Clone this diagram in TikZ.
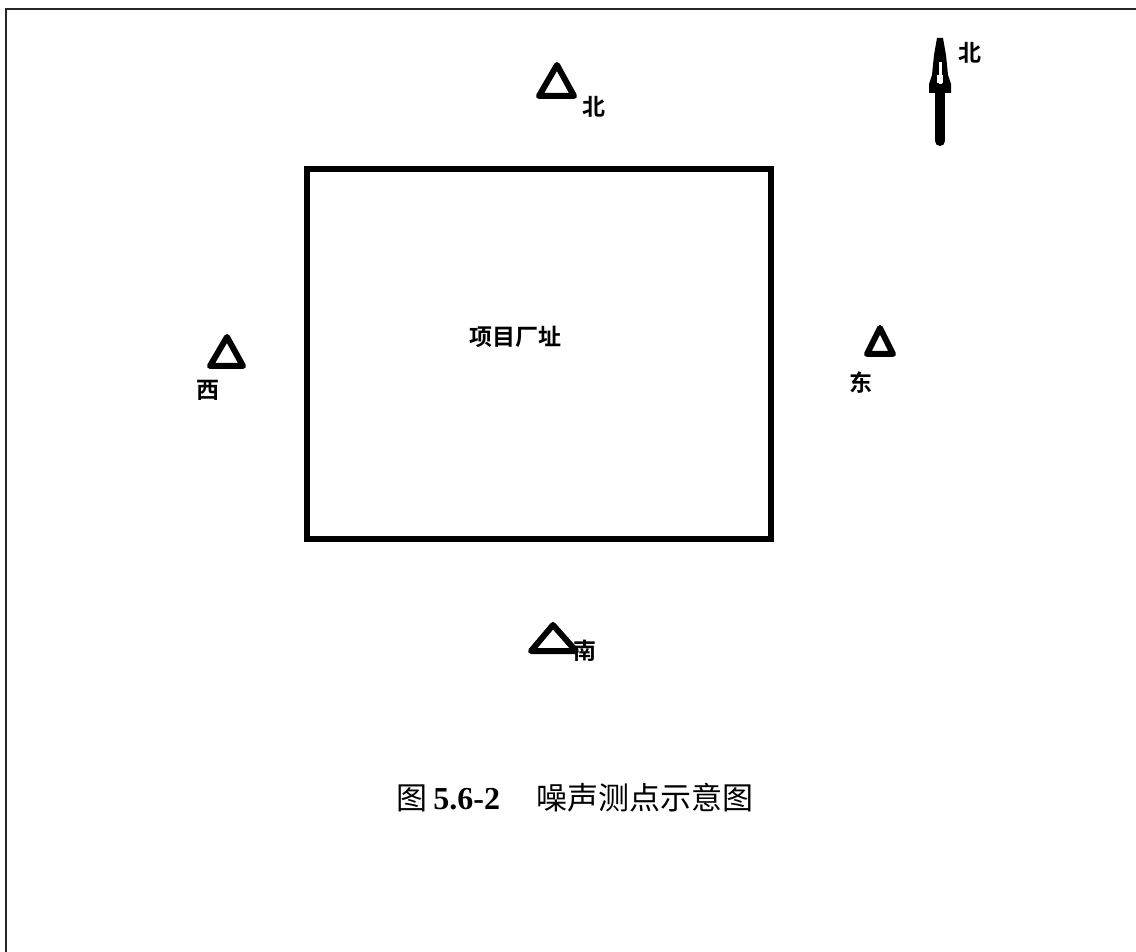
\documentclass[tikz,border=0pt]{standalone}
\usepackage{fontspec}
\setmainfont{Liberation Serif}
\newfontfamily\cjk{Noto Sans CJK SC}
\newfontfamily\cjkb{Noto Sans CJK SC Bold}
\begin{document}
\begin{tikzpicture}[x=0.5pt,y=-0.5pt,
  frameline/.style={line width=1pt,draw=black!85},
  site/.style={line width=3pt,draw=black},
  tri/.style={line width=3pt,draw=black,line join=round},
  lbl/.style={font=\cjkb\fontsize{11.5pt}{13pt}\selectfont,inner sep=0pt},
  captext/.style={font=\fontsize{15.5pt}{18pt}\selectfont,inner sep=0pt,anchor=west}]
\useasboundingbox (0,0) rectangle (1136,952);
\fill[white] (0,0) rectangle (1136,952);
% frame
\coordinate (fA) at (6,952);
\coordinate (fB) at (6,9);
\coordinate (fC) at (1136,9);
\draw[frameline] (fA) -- (fB) -- (fC);
% site
\node[site,minimum width=464*0.5pt,minimum height=370*0.5pt,inner sep=0pt] (site) at (539,354) {};
\node[lbl] (sitelbl) at (515,337) {项目厂址};
% north point
\draw[tri] (539,96) -- (574,96) -- (557,65) -- cycle;
\node[lbl] (nl) at (594,107) {北};
% west point
\draw[tri] (210,366) -- (243,366) -- (227,337) -- cycle;
\node[lbl] (wl) at (208,390) {西};
% east point
\draw[tri] (867,354) -- (893,354) -- (880,328) -- cycle;
\node[lbl] (el) at (861,383) {东};
% south point
\draw[tri] (531,651) -- (576,651) -- (553,625) -- cycle;
\node[lbl] (sl) at (585,651) {南};
% north arrow
\coordinate (a0) at (940,141);
\coordinate (a1) at (940,90);
\draw[line width=5pt,line cap=round] (a0) -- (a1);
\fill (937,38) -- (943,38) -- (946,55) -- (948,75) -- (951,84) -- (951,93) -- (929,93) -- (929,84) -- (932,75) -- (934,55) -- cycle;
\fill[white] (938.5,62) rectangle (941.5,84);
\fill[white] (937,75) rectangle (943,83);
\node[lbl] (al) at (970,53) {北};
% caption
\node[captext,font=\cjk\fontsize{15.5pt}{18pt}\selectfont] (c1) at (396,798) {图};
\node[captext,font=\bfseries\fontsize{16pt}{18pt}\selectfont] (c2) at (433,799) {5.6-2};
\node[captext,font=\cjk\fontsize{15.5pt}{18pt}\selectfont] (c3) at (536,798) {噪声测点示意图};
\end{tikzpicture}
\end{document}
